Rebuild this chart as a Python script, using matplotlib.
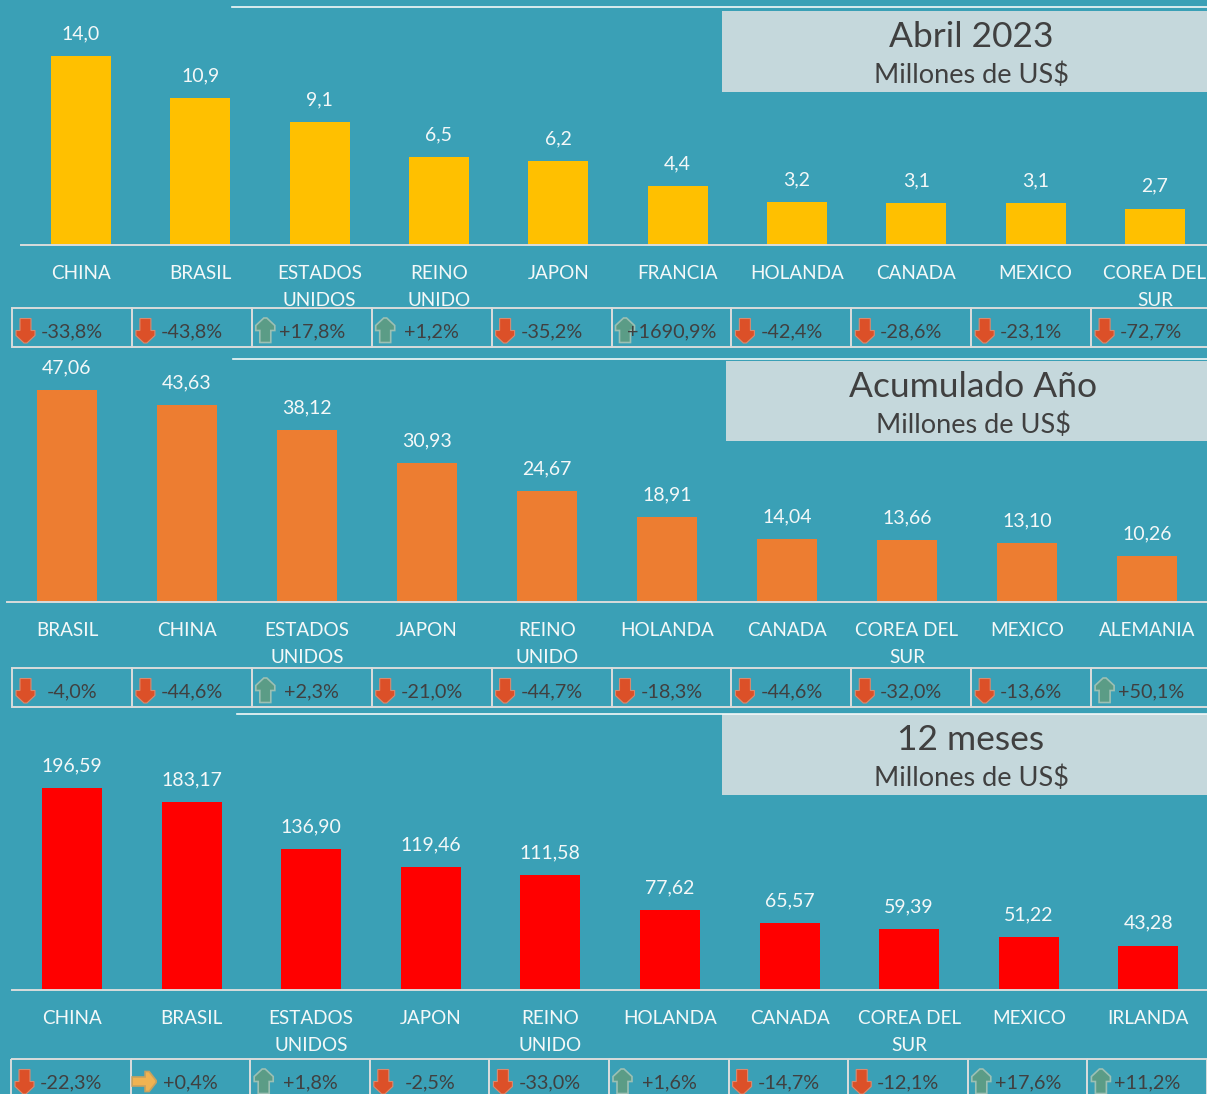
import matplotlib
matplotlib.use("Agg")
import matplotlib.pyplot as plt
from matplotlib.patches import Polygon, Rectangle

W, H = 1207, 1094
BG = "#3aa0b6"
WHITE = "#f4f8f8"
DARK = "#404040"
GRID = "#d9dcdc"

plt.rcParams['font.family'] = ['Lato', 'DejaVu Sans']

# ---- data ----
cats1 = ["CHINA", "BRASIL", "ESTADOS\nUNIDOS", "REINO\nUNIDO", "JAPON", "FRANCIA", "HOLANDA", "CANADA", "MEXICO", "COREA DEL\nSUR"]
vals1 = [14.0, 10.9, 9.1, 6.5, 6.2, 4.4, 3.2, 3.1, 3.1, 2.7]
chg1 = [-33.8, -43.8, 17.8, 1.2, -35.2, 1690.9, -42.4, -28.6, -23.1, -72.7]

cats2 = ["BRASIL", "CHINA", "ESTADOS\nUNIDOS", "JAPON", "REINO\nUNIDO", "HOLANDA", "CANADA", "COREA DEL\nSUR", "MEXICO", "ALEMANIA"]
vals2 = [47.06, 43.63, 38.12, 30.93, 24.67, 18.91, 14.04, 13.66, 13.10, 10.26]
chg2 = [-4.0, -44.6, 2.3, -21.0, -44.7, -18.3, -44.6, -32.0, -13.6, 50.1]

cats3 = ["CHINA", "BRASIL", "ESTADOS\nUNIDOS", "JAPON", "REINO\nUNIDO", "HOLANDA", "CANADA", "COREA DEL\nSUR", "MEXICO", "IRLANDA"]
vals3 = [196.59, 183.17, 136.90, 119.46, 111.58, 77.62, 65.57, 59.39, 51.22, 43.28]
chg3 = [-22.3, 0.4, 1.8, -2.5, -33.0, 1.6, -14.7, -12.1, 17.6, 11.2]

titles = ["Abril 2023", "Acumulado Año", "12 meses"]
subtitle = "Millones de US$"


def comma(v, dec):
	return f"{v:.{dec}f}".replace(".", ",")


def drawIcon(ax, cx, cy, chg):
	"""small arrow icon, like the excel icon set"""
	if abs(chg) < 1:
		shape = [(-12, -4.5), (1, -4.5), (1, -10), (5, -10), (12, -1), (12, 1), (5, 10), (1, 10), (1, 4.5), (-12, 4.5)]
		ax.add_patch(Polygon([(cx + a, cy + b) for a, b in shape], fc="#f0b352", ec="#c9a25e", lw=1.2))
		return
	shape = [(-5.5, -12), (5.5, -12), (5.5, 0), (9.5, 0), (9.5, 5), (1.5, 12.5), (-1.5, 12.5), (-9.5, 5), (-9.5, 0), (-5.5, 0)]
	if chg < 0:
		ax.add_patch(Polygon([(cx + a, cy + b) for a, b in shape], fc="#dc5028", ec="#d98a70", lw=0.8))
	else:
		ax.add_patch(Polygon([(cx + a, cy - b) for a, b in shape], fc="#5b9c86", ec="#9cc0b4", lw=1.2))


def drawPanel(fig, bg, cats, vals, chg, color, dec, title, first, step, base, top, scale, box, line, cellX, cellY, cellStep):
	# bar axes, placed in pixels
	left = first - step / 2
	ax = fig.add_axes([left / W, 1 - base / H, step * 10 / W, (base - top) / H])
	ax.patch.set_alpha(0)
	pos = list(range(len(vals)))
	ax.bar(pos, vals, width=60 / step, color=color)
	ax.set_xlim(-0.5, 9.5)
	ax.set_ylim(0, (base - top) / scale)
	for s in ["top", "left", "right"]:
		ax.spines[s].set_visible(False)
	ax.spines["bottom"].set_color(GRID)
	ax.spines["bottom"].set_linewidth(1.4)
	ax.set_yticks([])
	ax.set_xticks(pos)
	ax.set_xticklabels(cats, fontsize=13.6, color=WHITE, linespacing=1.66)
	ax.tick_params(axis="x", length=0, pad=14.7)
	for i, v in enumerate(vals):
		ax.annotate(comma(v, dec), (i, v), xytext=(0, 16), textcoords="offset points",
			ha="center", va="center", fontsize=14, color=WHITE, annotation_clip=False)

	# header box and thin line
	bg.plot([line[0], W], [line[1], line[1]], color=WHITE, lw=1.2)
	bg.add_patch(Rectangle((box[0], box[1]), W - box[0], box[2] - box[1], fc="#c5d8dc", ec="none"))
	mid = (box[0] + W) / 2 + 6.5
	bg.text(mid, box[1] + 26, title, ha="center", va="center", fontsize=25.5, color=DARK)
	bg.text(mid, box[1] + 64, subtitle, ha="center", va="center", fontsize=19.5, color=DARK)

	# change strip below the bars
	for i, c in enumerate(chg):
		x0 = cellX + i * cellStep
		bg.add_patch(Rectangle((x0, cellY), cellStep, 39, fc="none", ec=GRID, lw=1.4))
		drawIcon(bg, x0 + 13.5, cellY + 22.5, c)
		txt = f"{c:+.1f}%".replace(".", ",")
		bg.text(x0 + 60, cellY + 24, txt, ha="center", va="center", fontsize=14.3, color=DARK)


fig = plt.figure(figsize=(W / 100, H / 100), dpi=100, facecolor=BG)
bg = fig.add_axes([0, 0, 1, 1])
bg.set_xlim(0, W)
bg.set_ylim(H, 0)
bg.axis("off")

drawPanel(fig, bg, cats1, vals1, chg1, "#ffc000", 1, titles[0], 81, 119.33, 245, 0, 13.5,
	(722, 11, 92), (232, 7), 12, 308, 119.9)
drawPanel(fig, bg, cats2, vals2, chg2, "#ed7d31", 2, titles[1], 67, 120, 602, 350, 4.505,
	(726, 361, 441), (233, 359), 12, 668, 119.9)
drawPanel(fig, bg, cats3, vals3, chg3, "#ff0000", 2, titles[2], 72, 119.6, 990, 716, 1.0275,
	(722, 714, 795), (237, 714), 11, 1059, 119.6)

fig.savefig("out.png", dpi=100, facecolor=BG)
